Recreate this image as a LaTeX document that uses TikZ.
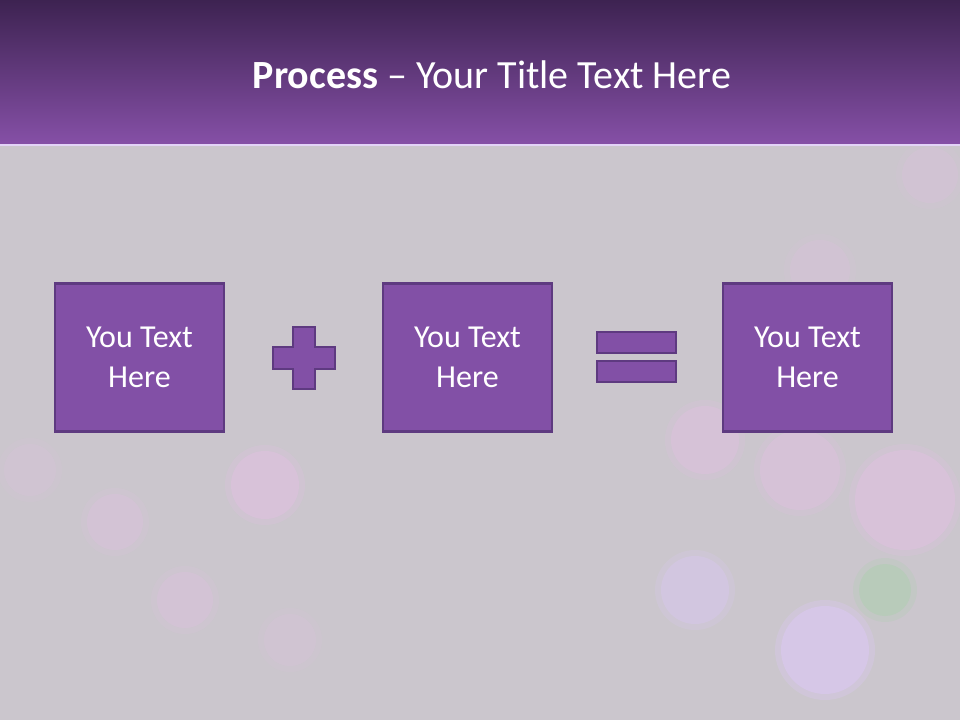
\documentclass[tikz,border=0pt]{standalone}
\usepackage{fontspec}
\setmainfont{Carlito}
\usetikzlibrary{positioning}
\definecolor{slidegray}{RGB}{203,198,205}
\definecolor{titletop}{RGB}{60,34,80}
\definecolor{titlebot}{RGB}{134,80,167}
\definecolor{procfill}{RGB}{130,80,166}
\definecolor{procline}{RGB}{94,58,128}
\definecolor{bokehpink}{RGB}{236,190,236}
\definecolor{bokehlilac}{RGB}{220,200,245}

\newcommand{\bokehdot}[4][0.18]{%
  \fill[#4,opacity=#1*0.6] (#2) circle (#3+4);
  \fill[#4,opacity=#1] (#2) circle (#3-2);}

\begin{document}
\begin{tikzpicture}[x=0.75pt,y=-0.75pt]
  \tikzstyle{proc}=[draw=procline,line width=1.6pt,fill=procfill,
    minimum width=127pt,minimum height=111pt,align=center,text=white,
    font=\fontsize{24}{30}\selectfont]
  \tikzstyle{op}=[draw=procline,line width=1.6pt,fill=procfill]

  \useasboundingbox (0,0) rectangle (960,720);

  % -- background --
  \fill[slidegray] (-2,-2) rectangle (962,722);
  \bokehdot[0.3]{265,485}{36}{bokehpink}
  \bokehdot{115,522}{30}{bokehpink}
  \bokehdot{185,600}{30}{bokehpink}
  \bokehdot[0.12]{30,470}{28}{bokehpink}
  \bokehdot[0.25]{705,440}{36}{bokehpink}
  \bokehdot[0.25]{800,470}{42}{bokehpink}
  \bokehdot[0.3]{905,500}{52}{bokehpink}
  \bokehdot[0.35]{695,590}{36}{bokehlilac}
  \bokehdot[0.5]{825,650}{46}{bokehlilac}
  \bokehdot[0.2]{885,590}{28}{green!30!slidegray}
  \bokehdot[0.15]{820,270}{32}{bokehpink}
  \bokehdot[0.15]{930,175}{30}{bokehpink}
  \bokehdot[0.12]{290,640}{28}{bokehpink}

  % -- title bar --
  \shade[top color=titletop,bottom color=titlebot] (-2,-2) rectangle (962,145);
  \draw[bokehlilac!80!white,line width=1.2pt] (-2,145) -- (962,145);
  \node[text=white,font=\fontsize{30}{36}\selectfont] (title) at (492,75)
    {\textbf{Process} -- Your Title Text Here};

  % -- boxes --
  \node[proc] (first) at (139.5,357.5) {You Text\\Here};
  \node[proc] (second) at (467.5,357.5) {You Text\\Here};
  \node[proc] (result) at (807.5,357.5) {You Text\\Here};

  % -- plus --
  \draw[op] (293,327) -- (315,327) -- (315,347) -- (335,347) -- (335,369)
    -- (315,369) -- (315,389) -- (293,389) -- (293,369) -- (273,369)
    -- (273,347) -- (293,347) -- cycle;

  % -- equals --
  \draw[op] (597,332) rectangle (676,353);
  \draw[op] (597,361) rectangle (676,382);
\end{tikzpicture}
\end{document}
